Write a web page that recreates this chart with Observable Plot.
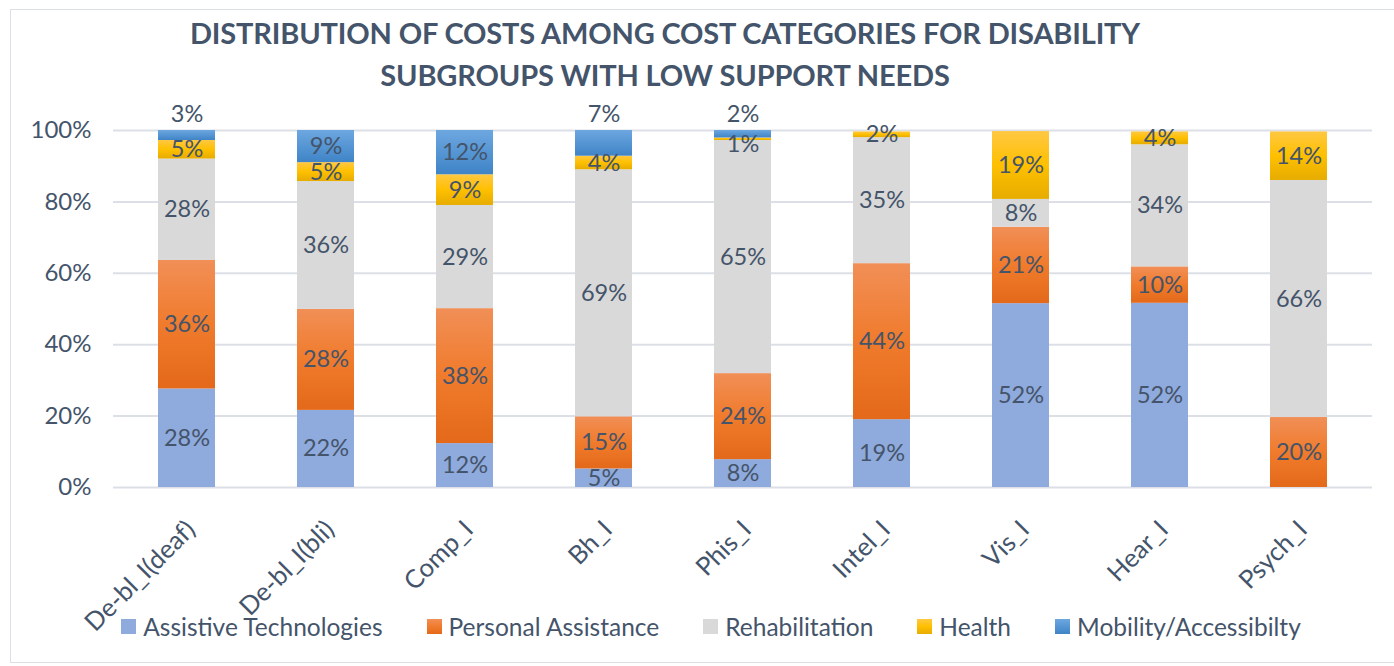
<!DOCTYPE html>
<html>
<head>
<meta charset="utf-8">
<script src="https://cdn.jsdelivr.net/npm/d3@7"></script>
<script src="https://cdn.jsdelivr.net/npm/@observablehq/plot@0.6"></script>
<style>
  html, body { margin: 0; padding: 0; background: #fff; }
  #wrap { position: relative; width: 1394px; height: 666px; overflow: hidden; font-family: Lato, "Open Sans", sans-serif; color: #44546A; }
  #frame { position: absolute; left: 10px; top: 9px; width: 1400px; height: 652px; border: 1.5px solid #DCDFE3; }
  #title { position: absolute; left: 0; top: 12px; width: 1330px; text-align: center; font-weight: 700; font-size: 29px; line-height: 42px; letter-spacing: -0.15px; }
  #chart { position: absolute; left: 0; top: 90px; }
  #legend { position: absolute; left: 0; top: 612px; width: 1422px; display: flex; justify-content: center; font-size: 24.5px; }
  .item { display: flex; align-items: center; margin: 0 22px; }
  .sw { width: 15px; height: 15px; margin-right: 7px; }
</style>
</head>
<body>
<div id="wrap">
  <div id="frame"></div>
  <div id="title">DISTRIBUTION OF COSTS AMONG COST CATEGORIES FOR DISABILITY<br>SUBGROUPS WITH LOW SUPPORT NEEDS</div>
  <div id="chart"></div>
  <div id="legend"></div>
</div>
<script>
// ---- data ----
const categories = ["De-bl_I(deaf)", "De-bl_I(bli)", "Comp_I", "Bh_I", "Phis_I", "Intel_I", "Vis_I", "Hear_I", "Psych_I"];
const series = ["Assistive Technologies", "Personal Assistance", "Rehabilitation", "Health", "Mobility/Accessibilty"];
const assistive      = [27.6, 21.6, 12.3,  5.2,  7.8, 19.0, 51.5, 51.6,  0];
const personal       = [36.0, 28.3, 37.8, 14.6, 24.1, 43.7, 21.4, 10.2, 19.6];
const rehabilitation = [28.4, 35.8, 28.9, 69.2, 65.3, 35.3,  7.8, 34.2, 66.4];
const health         = [ 5.2,  5.3,  8.6,  3.8,  0.7,  1.6, 19.0,  3.6, 13.6];
const mobility       = [ 2.8,  9.0, 12.4,  7.2,  2.1,  0,    0,    0,    0];
const yTicks = [0, 20, 40, 60, 80, 100];

// ---- styles ----
const gradients = [
  [["0", "#8FAADC"], ["1", "#8FAADC"]],
  [["0", "#F18F57"], ["0.5", "#F07B2C"], ["1", "#E4691A"]],
  [["0", "#D9D9D9"], ["1", "#D9D9D9"]],
  [["0", "#FFC843"], ["0.5", "#FFC000"], ["1", "#E6AC00"]],
  [["0", "#6DA7E0"], ["1", "#3F84C7"]]
];
const textColor = "#44546A";

const values = [assistive, personal, rehabilitation, health, mobility];

// build stacked rows
const rows = [];
const base = categories.map(() => 0);
values.forEach((vals, s) => {
  categories.forEach((c, i) => {
    const v = vals[i];
    rows.push({cat: c, s, v, y1: base[i], y2: base[i] + v});
    base[i] += v;
  });
});

const barMarks = values.map((_, s) =>
  Plot.barY(rows.filter(r => r.s === s && r.v > 0), {x: "cat", y1: "y1", y2: "y2", fill: `url(#grad${s})`})
);

const labelRows = rows.filter(r => r.v > 0).map(r => {
  const above = r.s === 4 && r.v < 8;
  return {cat: r.cat, y: above ? 100 : (r.y1 + r.y2) / 2, above, tiny: r.v < 1, text: Math.round(r.v) + "%"};
});

const svg = Plot.plot({
  width: 1394,
  height: 576,
  marginLeft: 113,
  marginRight: 22,
  marginTop: 40,
  marginBottom: 179,
  x: {domain: categories, paddingInner: 0.59, paddingOuter: 0.295, label: null},
  y: {domain: [0, 100], label: null},
  style: {fontFamily: "Lato, 'Open Sans', sans-serif", background: "transparent", color: textColor, overflow: "visible"},
  marks: [
    Plot.gridY(yTicks, {stroke: "#DCE0E6", strokeWidth: 2, strokeOpacity: 1}),
    Plot.axisY(yTicks, {tickSize: 0, tickPadding: 22, tickFormat: d => d + "%", fontSize: 24, fill: textColor, label: null}),
    Plot.axisX({tickSize: 0, tickRotate: -45, tickPadding: 40, dx: 4, dy: -2, fontSize: 25.5, fill: textColor, label: null}),
    ...barMarks,
    Plot.text(labelRows.filter(d => !d.above && !d.tiny), {x: "cat", y: "y", text: "text", fontSize: 23.5, fill: textColor}),
    Plot.text(labelRows.filter(d => d.tiny), {x: "cat", y: "y", text: "text", fontSize: 23.5, fill: textColor, dy: 5}),
    Plot.text(labelRows.filter(d => d.above), {x: "cat", y: "y", text: "text", fontSize: 23.5, fill: textColor, dy: -16})
  ]
});

const defs = d3.select(svg).insert("defs", ":first-child");
gradients.forEach((stops, s) => {
  const g = defs.append("linearGradient").attr("id", `grad${s}`).attr("x1", 0).attr("y1", 0).attr("x2", 0).attr("y2", 1);
  stops.forEach(([o, c]) => g.append("stop").attr("offset", o).attr("stop-color", c));
});
document.getElementById("chart").appendChild(svg);

// legend
const legend = d3.select("#legend");
series.forEach((name, s) => {
  const it = legend.append("div").attr("class", "item");
  const stops = gradients[s].map(([o, c]) => `${c} ${+o * 100}%`).join(", ");
  it.append("div").attr("class", "sw").style("background", `linear-gradient(to bottom, ${stops})`);
  it.append("span").text(name);
});
</script>
</body>
</html>
